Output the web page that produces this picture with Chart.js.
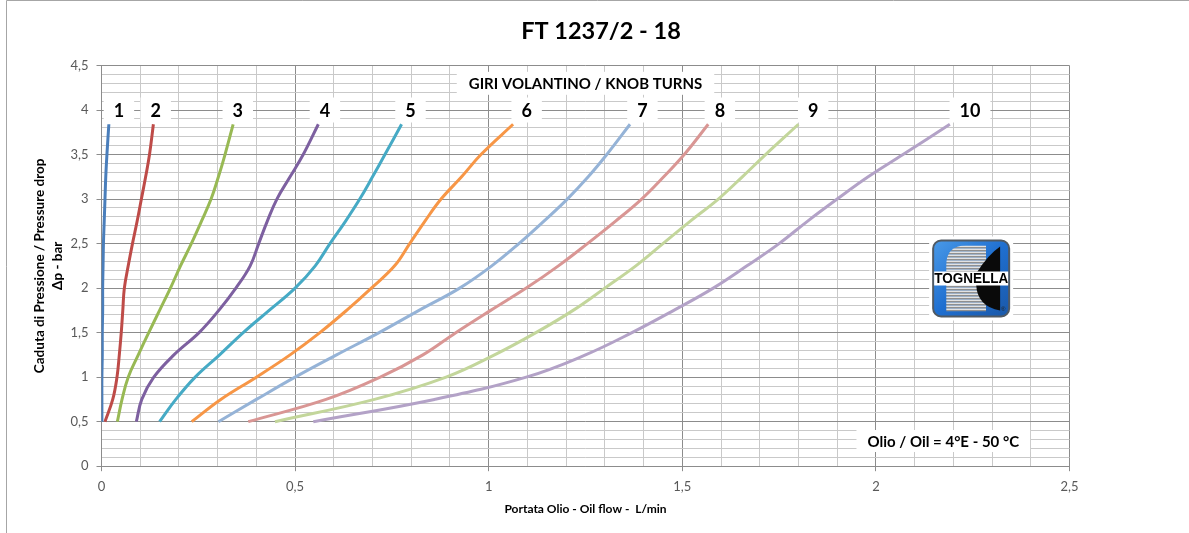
<!DOCTYPE html>
<html>
<head>
<meta charset="utf-8">
<script src="https://cdn.jsdelivr.net/npm/chart.js@4.4.1/dist/chart.umd.min.js"></script>
<style>
  html, body { margin: 0; padding: 0; background: #fff; }
  #wrap { position: relative; width: 1189px; height: 533px; }
</style>
</head>
<body>
<div id="wrap"><canvas id="c" width="1189" height="533"></canvas></div>
<script>
// ---- data ----
const chartTitle = 'FT 1237/2 - 18';
const xAxisTitle = 'Portata Olio - Oil flow -  L/min';
const yAxisTitle = ['Caduta di Pressione / Pressure drop', 'Δp - bar'];
const headerNote = 'GIRI VOLANTINO / KNOB TURNS';
const oilNote = 'Olio / Oil = 4°E - 50 °C';
const logoText = 'TOGNELLA';

const knobTurns = ['1', '2', '3', '4', '5', '6', '7', '8', '9', '10'];
const pressureDrop = [0.5, 0.75, 1, 1.25, 1.5, 1.75, 2, 2.25, 2.5, 2.75, 3, 3.25, 3.5, 3.84];

const flowTurn1  = [0.001, 0.001, 0.001, 0.002, 0.002, 0.003, 0.003, 0.004, 0.005, 0.007, 0.009, 0.011, 0.014, 0.019];
const flowTurn2  = [0.009, 0.029, 0.040, 0.046, 0.051, 0.055, 0.059, 0.069, 0.080, 0.092, 0.103, 0.114, 0.124, 0.134];
const flowTurn3  = [0.041, 0.053, 0.069, 0.095, 0.122, 0.150, 0.178, 0.204, 0.232, 0.258, 0.283, 0.302, 0.319, 0.340];
const flowTurn4  = [0.090, 0.104, 0.135, 0.187, 0.252, 0.303, 0.347, 0.384, 0.406, 0.428, 0.453, 0.487, 0.521, 0.560];
const flowTurn5  = [0.150, 0.192, 0.242, 0.305, 0.366, 0.433, 0.500, 0.552, 0.590, 0.630, 0.667, 0.700, 0.732, 0.775];
const flowTurn6  = [0.233, 0.308, 0.400, 0.487, 0.564, 0.633, 0.697, 0.757, 0.796, 0.835, 0.877, 0.930, 0.980, 1.063];
const flowTurn7  = [0.302, 0.400, 0.500, 0.607, 0.717, 0.820, 0.925, 1.008, 1.078, 1.142, 1.203, 1.257, 1.305, 1.365];
const flowTurn8  = [0.379, 0.580, 0.720, 0.830, 0.915, 1.005, 1.097, 1.180, 1.255, 1.327, 1.395, 1.452, 1.505, 1.567];
const flowTurn9  = [0.448, 0.705, 0.890, 1.015, 1.122, 1.218, 1.300, 1.380, 1.450, 1.520, 1.593, 1.655, 1.715, 1.800];
const flowTurn10 = [0.547, 0.860, 1.097, 1.250, 1.370, 1.478, 1.580, 1.667, 1.750, 1.823, 1.900, 1.980, 2.070, 2.191];

const turnLabelFlow = [0.045, 0.140, 0.352, 0.577, 0.798, 1.098, 1.397, 1.597, 1.838, 2.243];
const turnLabelPressure = 4.0;

const xTicksMin = 0, xTicksMax = 2.5, xMinorStep = 0.1;
const yTicksMin = 0, yTicksMax = 4.5, yMinorStep = 0.1;

// ---- styles ----
const seriesColors = ['#4A7EBB', '#BE4B48', '#98B954', '#7D60A0', '#46AAC5',
                      '#F79646', '#95B3D7', '#D99694', '#C3D69B', '#B3A2C7'];
const FONT = 'Lato, "Open Sans", "Liberation Sans", sans-serif';
const MAJOR = '#8c8c8c', MINOR = '#c9c9c9';

const flows = [flowTurn1, flowTurn2, flowTurn3, flowTurn4, flowTurn5,
               flowTurn6, flowTurn7, flowTurn8, flowTurn9, flowTurn10];

const datasets = flows.map((f, i) => ({
  label: knobTurns[i],
  data: f.map((x, j) => ({ x: x, y: pressureDrop[j] })),
  showLine: true,
  borderColor: seriesColors[i],
  backgroundColor: seriesColors[i],
  borderWidth: 3,
  pointRadius: 0,
  tension: 0.4,
  fill: false
}));

const isMajor = v => Math.abs(Math.round(v * 10) % 5) === 0;
const fmt = v => String(Math.round(v * 10) / 10).replace('.', ',');

const frame = {
  id: 'frame',
  beforeDraw(chart) {
    const ctx = chart.ctx;
    ctx.save();
    ctx.fillStyle = '#ffffff';
    ctx.fillRect(0, 0, chart.width, chart.height);
    ctx.strokeStyle = '#a6a6a6';
    ctx.lineWidth = 1;
    ctx.beginPath();
    ctx.moveTo(6.5, chart.height);
    ctx.lineTo(6.5, 0.5);
    ctx.lineTo(chart.width, 0.5);
    ctx.stroke();
    ctx.restore();
  }
};

function box(ctx, cx, cy, text, font, padX, h) {
  ctx.font = font;
  const w = ctx.measureText(text).width + 2 * padX;
  ctx.fillStyle = '#ffffff';
  ctx.fillRect(cx - w / 2, cy - h / 2, w, h);
  ctx.fillStyle = '#000000';
  ctx.textAlign = 'center';
  ctx.textBaseline = 'middle';
  ctx.fillText(text, cx, cy + 1);
}

function drawLogo(ctx, x0, y0, s) {
  ctx.save();
  const r = 8;
  const rr = (x, y, w, h, rad) => {
    ctx.beginPath();
    ctx.moveTo(x + rad, y);
    ctx.arcTo(x + w, y, x + w, y + h, rad);
    ctx.arcTo(x + w, y + h, x, y + h, rad);
    ctx.arcTo(x, y + h, x, y, rad);
    ctx.arcTo(x, y, x + w, y, rad);
    ctx.closePath();
  };
  ctx.fillStyle = '#ffffff';
  ctx.fillRect(x0 - 4, y0 - 4, s + 8, s + 8);
  const g = ctx.createLinearGradient(x0, y0, x0 + s, y0 + s);
  g.addColorStop(0, '#4a9ae8');
  g.addColorStop(0.5, '#1f6fd0');
  g.addColorStop(1, '#1a58a8');
  rr(x0, y0, s, s, r);
  ctx.fillStyle = g;
  ctx.fill();
  ctx.lineWidth = 2;
  ctx.strokeStyle = '#505a64';
  ctx.stroke();
  ctx.save();
  ctx.beginPath();
  const sx = x0 + 13, sy = y0 + 5, sw = 40, sh = s - 10;
  ctx.moveTo(sx, sy + 20);
  ctx.quadraticCurveTo(sx, sy, sx + 20, sy);
  ctx.lineTo(sx + sw, sy);
  ctx.lineTo(sx + sw, sy + sh);
  ctx.lineTo(sx, sy + sh);
  ctx.closePath();
  ctx.clip();
  for (let yy = sy; yy < sy + sh; yy += 3) {
    ctx.fillStyle = '#e2e2e2';
    ctx.fillRect(sx, yy, sw, 1.5);
    ctx.fillStyle = '#8f8f8f';
    ctx.fillRect(sx, yy + 1.5, sw, 1.5);
  }
  ctx.restore();
  ctx.beginPath();
  ctx.moveTo(x0 + s - 9, y0 + 6);
  ctx.lineTo(x0 + s - 9, y0 + s - 6);
  ctx.quadraticCurveTo(x0 + 44, y0 + s - 10, x0 + 43, y0 + 44);
  ctx.lineTo(x0 + 43, y0 + 33);
  ctx.quadraticCurveTo(x0 + 55, y0 + 14, x0 + s - 9, y0 + 6);
  ctx.closePath();
  ctx.fillStyle = '#0a0a0a';
  ctx.fill();
  ctx.fillStyle = '#ffffff';
  ctx.fillRect(x0 + 1, y0 + 31, s - 2, 14);
  ctx.fillStyle = '#000000';
  ctx.font = 'bold 14px "Liberation Sans", Arial, sans-serif';
  ctx.textAlign = 'center';
  ctx.textBaseline = 'middle';
  ctx.fillText(logoText, x0 + s / 2, y0 + 38.5, s - 2);
  ctx.font = '6px "Liberation Sans", sans-serif';
  ctx.fillStyle = '#222';
  ctx.fillText('®', x0 + s - 6, y0 + s - 7);
  ctx.restore();
}

const notes = {
  id: 'notes',
  afterDatasetsDraw(chart) {
    const { ctx, scales: { x, y }, chartArea } = chart;
    ctx.save();
    knobTurns.forEach((t, i) => {
      box(ctx, x.getPixelForValue(turnLabelFlow[i]), y.getPixelForValue(turnLabelPressure),
          t, 'bold 18px ' + FONT, 10, 25);
    });
    box(ctx, (chartArea.left + chartArea.right) / 2, y.getPixelForValue(4.3),
        headerNote, 'bold 15px ' + FONT, 12, 23);
    box(ctx, x.getPixelForValue(2.174), y.getPixelForValue(0.283),
        oilNote, 'bold 15px ' + FONT, 11, 22);
    const lx = x.getPixelForValue(2.246), ly = y.getPixelForValue(2.108);
    drawLogo(ctx, lx - 38, ly - 38, 76);
    ctx.restore();
  }
};

Chart.defaults.font.family = FONT;

new Chart(document.getElementById('c'), {
  type: 'scatter',
  data: { datasets },
  plugins: [frame, notes],
  options: {
    responsive: false,
    animation: false,
    events: [],
    layout: { padding: { left: 13, right: 0, top: 0, bottom: 0 } },
    plugins: {
      legend: { display: false },
      tooltip: { enabled: false },
      title: {
        display: true,
        text: chartTitle,
        color: '#000000',
        font: { size: 23.5, weight: 'bold', family: FONT, lineHeight: 1.2 },
        padding: { top: 17, bottom: 20.3 }
      }
    },
    scales: {
      x: {
        type: 'linear',
        min: xTicksMin,
        max: xTicksMax,
        afterFit(s) { s.height = 66.8; },
        ticks: {
          stepSize: xMinorStep,
          autoSkip: false,
          maxRotation: 0,
          padding: 8,
          color: '#595959',
          font: { size: 13 },
          callback: v => isMajor(v) ? fmt(v) : ''
        },
        grid: {
          color: c => isMajor(c.tick.value) ? MAJOR : MINOR,
          tickColor: c => isMajor(c.tick.value) ? MAJOR : 'rgba(0,0,0,0)',
          tickLength: 5,
          lineWidth: 1
        },
        border: { color: MAJOR, width: 1 },
        title: {
          display: true,
          text: xAxisTitle,
          color: '#000000',
          font: { size: 12, weight: 'bold', lineHeight: 1.2 },
          padding: { top: 0, bottom: 16.5 }
        }
      },
      y: {
        type: 'linear',
        position: 'left',
        min: yTicksMin,
        max: yTicksMax,
        afterFit(s) { s.width = 88.5; },
        ticks: {
          stepSize: yMinorStep,
          autoSkip: false,
          padding: 8,
          color: '#595959',
          font: { size: 13 },
          callback: v => isMajor(v) ? fmt(v) : ''
        },
        grid: {
          color: c => isMajor(c.tick.value) ? MAJOR : MINOR,
          tickColor: c => isMajor(c.tick.value) ? MAJOR : 'rgba(0,0,0,0)',
          tickLength: 5,
          lineWidth: 1
        },
        border: { color: MAJOR, width: 1 },
        title: {
          display: true,
          text: yAxisTitle,
          color: '#000000',
          font: { size: 13.5, weight: 'bold', lineHeight: 1.333 },
          padding: { top: 18, bottom: 0 }
        }
      },
      yRight: {
        type: 'linear',
        position: 'right',
        min: yTicksMin,
        max: yTicksMax,
        afterFit(s) { s.width = 119.5; },
        grid: { display: false, drawOnChartArea: false },
        border: { display: false },
        ticks: { display: false }
      }
    }
  }
});
</script>
</body>
</html>
